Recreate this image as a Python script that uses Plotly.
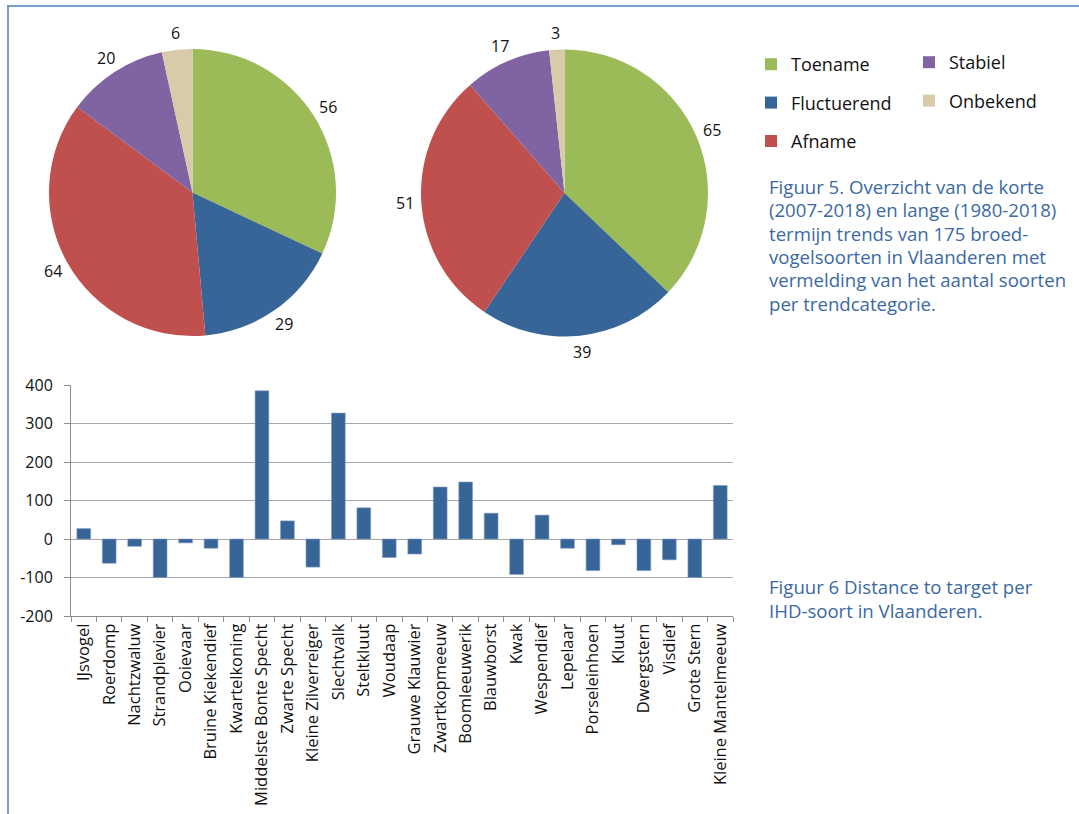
import math
import plotly.graph_objects as go

W, H = 1079, 814

# Trend categories and species counts (short term / long term)
categories = ["Toename", "Fluctuerend", "Afname", "Stabiel", "Onbekend"]
colors = ["#9BBB59", "#386597", "#C0504D", "#8064A2", "#D8CBA9"]
short_term = [56, 29, 64, 20, 6]
long_term = [65, 39, 51, 17, 3]

# Distance to target per IHD species
species = [
    "IJsvogel", "Roerdomp", "Nachtzwaluw", "Strandplevier", "Ooievaar",
    "Bruine Kiekendief", "Kwartelkoning", "Middelste Bonte Specht",
    "Zwarte Specht", "Kleine Zilverreiger", "Slechtvalk", "Steltkluut",
    "Woudaap", "Grauwe Klauwier", "Zwartkopmeeuw", "Boomleeuwerik",
    "Blauwborst", "Kwak", "Wespendief", "Lepelaar", "Porseleinhoen",
    "Kluut", "Dwergstern", "Visdief", "Grote Stern", "Kleine Mantelmeeuw",
]
distance = [
    27, -63, -19, -100, -10, -24, -100, 385, 47, -73, 327, 81,
    -48, -39, 135, 148, 67, -92, 62, -24, -82, -15, -82, -54, -100, 139,
]
y_ticks = [-200, -100, 0, 100, 200, 300, 400]

caption5_lines = [
    "Figuur 5. Overzicht van de korte",
    "(2007-2018) en lange (1980-2018)",
    "termijn trends van 175 broed-",
    "vogelsoorten in Vlaanderen met",
    "vermelding van het aantal soorten",
    "per trendcategorie.",
]
caption6_lines = [
    "Figuur 6 Distance to target per",
    "IHD-soort in Vlaanderen.",
]

FONT = "Open Sans"
TEXT = "#111111"
CAPTION_BLUE = "#3B69A2"
AXIS_GREY = "#8C8C8C"

# Pie placement (pixel centre, radius) and label distance from the centre
PIE_R = 143.5
PIE_CENTRES = [(192.5, 192.5), (564.5, 193.0)]
LABEL_DIST = 160


def fx(px):
    return px / W


def fy(py):
    return (H - py) / H


fig = go.Figure()

for vals, (cx, cy) in zip([short_term, long_term], PIE_CENTRES):
    fig.add_trace(go.Pie(
        values=vals,
        labels=categories,
        marker=dict(colors=colors, line=dict(width=0)),
        sort=False,
        direction="clockwise",
        rotation=0,
        textinfo="none",
        showlegend=False,
        hoverinfo="label+value",
        domain=dict(x=[fx(cx - PIE_R), fx(cx + PIE_R)],
                    y=[fy(cy + PIE_R), fy(cy - PIE_R)]),
    ))
    # value labels outside each slice, on the slice's mid-angle
    total = sum(vals)
    start = 0.0
    for v in vals:
        mid = (start + v / 2) / total * 2 * math.pi
        start += v
        lx = cx + LABEL_DIST * math.sin(mid)
        ly = cy - LABEL_DIST * math.cos(mid)
        fig.add_annotation(
            text=str(v), x=fx(lx), y=fy(ly), xref="paper", yref="paper",
            xanchor="center", yanchor="middle", showarrow=False,
            font=dict(family=FONT, size=16, color=TEXT),
        )

# Bar chart
fig.add_trace(go.Bar(
    x=species, y=distance,
    marker=dict(color="#386597", line=dict(color="#7F9CC0", width=0.6)),
    showlegend=False,
    width=0.54,
))

# Legend entries (two columns)
for i, (name, col) in enumerate(zip(categories, colors)):
    fig.add_trace(go.Scatter(
        x=[None], y=[None], mode="markers", name=name,
        marker=dict(symbol="square", size=12, color=col),
        legend="legend" if i < 3 else "legend2",
        legendgroup=name,
        hoverinfo="skip",
    ))

legend_common = dict(
    font=dict(family=FONT, size=18, color=TEXT),
    bgcolor="rgba(0,0,0,0)",
    orientation="v",
    xanchor="left", yanchor="top",
    tracegroupgap=12,
    itemclick=False,
)

fig.update_layout(
    width=W, height=H,
    margin=dict(l=0, r=0, t=0, b=0, autoexpand=False),
    paper_bgcolor="white",
    plot_bgcolor="white",
    font=dict(family=FONT, color=TEXT),
    bargap=0.46,
    legend=dict(x=fx(751), y=fy(46), **legend_common),
    legend2=dict(x=fx(909), y=fy(44), **legend_common),
    xaxis=dict(
        domain=[fx(71), fx(733)],
        type="category",
        tickangle=-90,
        ticks="outside", ticklen=5, tickcolor=AXIS_GREY,
        tickson="boundaries",
        showline=True, linecolor=AXIS_GREY, linewidth=1,
        showgrid=False,
        tickfont=dict(family=FONT, size=16.5, color=TEXT),
        automargin=False,
        fixedrange=True,
    ),
    yaxis=dict(
        domain=[fy(616), fy(385)],
        range=[-200, 400],
        tickvals=y_ticks,
        ticktext=[str(v) for v in y_ticks],
        ticks="outside", ticklen=6, tickcolor=AXIS_GREY,
        ticklabelstandoff=8,
        showline=True, linecolor=AXIS_GREY, linewidth=1,
        showgrid=True, gridcolor="#A6A6A6", gridwidth=1,
        zeroline=False,
        tickfont=dict(family=FONT, size=16, color=TEXT),
        automargin=False,
        fixedrange=True,
    ),
)

# Figure captions, one annotation per line
LINE_STEP = 23.3
for lines, first_y in [(caption5_lines, 186.7), (caption6_lines, 586.7)]:
    for k, line in enumerate(lines):
        fig.add_annotation(
            text=line, xref="paper", yref="paper",
            x=fx(767), y=fy(first_y + k * LINE_STEP),
            xanchor="left", yanchor="middle", align="left", showarrow=False,
            font=dict(family=FONT, size=18.6, color=CAPTION_BLUE),
        )

# Page frame
frame = dict(color="#4A7EBB", width=1.5)
fig.add_shape(type="line", xref="paper", yref="paper",
              x0=fx(7), x1=1, y0=fy(6), y1=fy(6), line=frame)
fig.add_shape(type="line", xref="paper", yref="paper",
              x0=fx(8), x1=fx(8), y0=fy(6), y1=0, line=frame)

fig.write_html("out.html")
